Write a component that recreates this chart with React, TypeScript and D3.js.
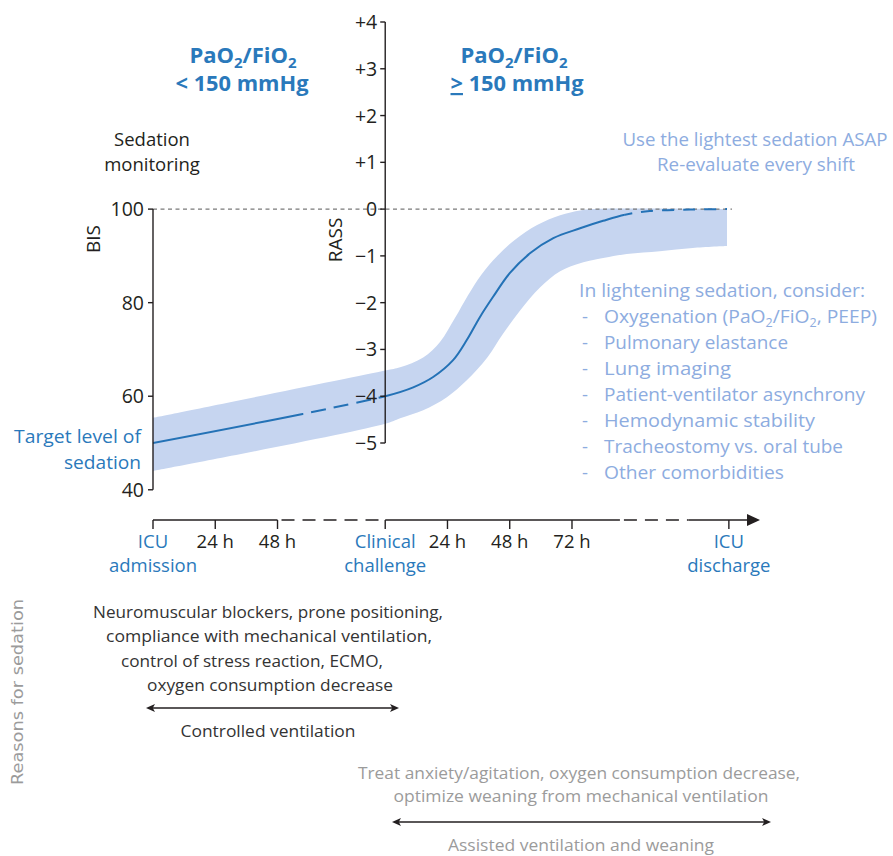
import React from 'react';
import * as d3 from 'd3';

const W = 893;
const H = 856;

// Timeline positions (1 unit = 24 h; axis is broken between phases)
const timeTicks = [0, 1, 2, 3.73, 4.73, 5.73, 6.73, 9.25];
const timeTickLabels = [["ICU", "admission"], ["24 h"], ["48 h"], ["Clinical", "challenge"], ["24 h"], ["48 h"], ["72 h"], ["ICU", "discharge"]];
const timeTickKey = [true, false, false, true, false, false, false, true];
const axisSolidSpans = [[0, 2], [3.73, 7.5], [8.6, 9.72]];
const axisDashedSpans = [[2, 3.73], [7.5, 8.6]];

const bisTicks = [100, 80, 60, 40];
const rassTicks = [4, 3, 2, 1, 0, -1, -2, -3, -4, -5];
const rassTickLabels = ["+4", "+3", "+2", "+1", "0", "\u22121", "\u22122", "\u22123", "\u22124", "\u22125"];

// Phase 1 (PaO2/FiO2 < 150): target BIS
const bisPos = [0, 3.73];
const bisTarget = [50, 60];
const bisUpper = [55.4, 65.5];
const bisLower = [44.0, 54.1];

// Phase 2 (PaO2/FiO2 >= 150): target RASS
const rassPos = [3.73, 4.18, 4.5, 4.82, 5.04, 5.25, 5.46, 5.73, 6.06, 6.43, 6.86, 7.23, 7.58, 7.98, 8.63, 9.22];
const rassTarget = [-4.0, -3.81, -3.59, -3.23, -2.8, -2.31, -1.88, -1.37, -0.94, -0.62, -0.41, -0.25, -0.12, -0.04, -0.01, 0];
const upperPos = [3.97, 4.34, 4.61, 4.85, 5.06, 5.28, 5.53, 5.81, 6.17, 6.54, 6.86, 7.05, 9.22];
const rassUpper = [-3.38, -3.17, -2.84, -2.33, -1.84, -1.39, -1.0, -0.66, -0.34, -0.13, -0.03, 0, 0];
const lowerPos = [3.97, 4.34, 4.72, 5.04, 5.37, 5.62, 5.9, 6.22, 6.54, 6.86, 7.07, 7.61, 8.14, 8.67, 9.22];
const rassLower = [-4.47, -4.3, -4.02, -3.66, -3.17, -2.67, -2.16, -1.67, -1.33, -1.16, -1.09, -0.96, -0.9, -0.83, -0.79];

const lineSolidSpans = [[0, 2.41], [3.73, 7.58]];
const lineDashedSpans1 = [[2.41, 3.73]];
const lineDashedSpans2 = [[7.58, 9.3]];

const considerItems = [
  "Oxygenation",
  "Pulmonary elastance",
  "Lung imaging",
  "Patient-ventilator asynchrony",
  "Hemodynamic stability",
  "Tracheostomy vs. oral tube",
  "Other comorbidities",
];
const considerWidths = [273, 184, 127, 261, 211, 239, 180];

const controlledReasons = [
  "Neuromuscular blockers, prone positioning,",
  "compliance with mechanical ventilation,",
  "control of stress reaction, ECMO,",
  "oxygen consumption decrease",
];
const controlledWidths = [350, 326, 262, 246];
const assistedReasons = [
  "Treat anxiety/agitation, oxygen consumption decrease,",
  "optimize weaning from mechanical ventilation",
];
const assistedWidths = [442, 375];

const FONT = "'Open Sans', 'Noto Sans', sans-serif";
const INK = "#231f20";
const BLUE = "#2a79bb";
const LINE = "#2472b6";
const BAND = "#c6d5f0";
const LIGHT = "#8dace0";
const GRAY = "#9b9b9b";

const x = d3.scaleLinear().domain([0, 9.75]).range([153, 760]);
const yR = d3.scaleLinear().domain([-5, 4]).range([443, 22]);
const yB = d3.scaleLinear().domain([40, 100]).range([yR(-6), yR(0)]);

const line = d3.line().curve(d3.curveCatmullRom.alpha(0.5));

function dedupe(pts: [number, number][]) {
  const out: [number, number][] = [];
  pts.forEach((p) => {
    const last = out[out.length - 1];
    if (!last || Math.abs(last[0] - p[0]) > 0.01) out.push(p);
  });
  return out;
}

const upperPts = dedupe([
  ...bisPos.map((u, i) => [x(u), yB(bisUpper[i])] as [number, number]),
  ...upperPos.map((u, i) => [x(u), yR(rassUpper[i])] as [number, number]),
]);
const lowerPts = dedupe([
  ...bisPos.map((u, i) => [x(u), yB(bisLower[i])] as [number, number]),
  ...lowerPos.map((u, i) => [x(u), yR(rassLower[i])] as [number, number]),
]);
const bandPath = (line(upperPts) as string) + "L" + (line(lowerPts.slice().reverse()) as string).slice(1) + "Z";
const centerPts = dedupe([
  ...bisPos.map((u, i) => [x(u), yB(bisTarget[i])] as [number, number]),
  ...rassPos.map((u, i) => [x(u), yR(rassTarget[i])] as [number, number]),
]);
const centerPath = line(centerPts) as string;

function ArrowHead({ tipX, y, dir }: { tipX: number; y: number; dir: number }) {
  const l = 9, w = 4;
  return <polygon points={`${tipX},${y} ${tipX - dir * l},${y - w} ${tipX - dir * l * 0.75},${y} ${tipX - dir * l},${y + w}`} fill={INK} />;
}

export default function App() {
  const axisY = 520;
  const rx = x(3.73);
  return (
    <svg width={W} height={H} style={{ position: 'absolute', left: 0, top: 0, display: 'block', background: '#fff' }} fontFamily={FONT}>
      <defs>
        <clipPath id="solidClip">
          {lineSolidSpans.map((s, i) => <rect key={i} x={x(s[0])} y={0} width={x(s[1]) - x(s[0])} height={H} />)}
        </clipPath>
        <clipPath id="dash1Clip">
          {lineDashedSpans1.map((s, i) => <rect key={i} x={x(s[0])} y={0} width={x(s[1]) - x(s[0])} height={H} />)}
        </clipPath>
        <clipPath id="dash2Clip">
          {lineDashedSpans2.map((s, i) => <rect key={i} x={x(s[0])} y={0} width={x(s[1]) - x(s[0])} height={H} />)}
        </clipPath>
      </defs>

      {/* Titles */}
      <text x={243} y={63} textAnchor="middle" fontSize={22} fontWeight={700} fill={BLUE}>
        <tspan>PaO</tspan><tspan fontSize={15} dy={5}>2</tspan><tspan dy={-5}>/FiO</tspan><tspan fontSize={15} dy={5}>2</tspan>
      </text>
      <text x={242} y={91} textAnchor="middle" fontSize={22} fontWeight={700} fill={BLUE} textLength={133} lengthAdjust="spacingAndGlyphs">&lt; 150 mmHg</text>
      <text x={514} y={63} textAnchor="middle" fontSize={22} fontWeight={700} fill={BLUE}>
        <tspan>PaO</tspan><tspan fontSize={15} dy={5}>2</tspan><tspan dy={-5}>/FiO</tspan><tspan fontSize={15} dy={5}>2</tspan>
      </text>
      <text x={517} y={91} textAnchor="middle" fontSize={22} fontWeight={700} fill={BLUE} textLength={133} lengthAdjust="spacingAndGlyphs">
        <tspan style={{ textDecoration: 'underline' }}>&gt;</tspan> 150 mmHg
      </text>

      <text x={152} y={146} textAnchor="middle" fontSize={18.5} fill={INK}>Sedation</text>
      <text x={152} y={171} textAnchor="middle" fontSize={18.5} fill={INK}>monitoring</text>

      <text x={755} y={146} textAnchor="middle" fontSize={18.5} fill={LIGHT} textLength={265} lengthAdjust="spacingAndGlyphs">Use the lightest sedation ASAP</text>
      <text x={756} y={171} textAnchor="middle" fontSize={18.5} fill={LIGHT} textLength={198} lengthAdjust="spacingAndGlyphs">Re-evaluate every shift</text>

      {/* Band and target line */}
      <path d={bandPath} fill={BAND} />
      <line x1={x(0)} x2={x(9.3)} y1={yR(0)} y2={yR(0)} stroke="#7a7a7a" strokeWidth={1.3} strokeDasharray="4 3.5" />
      <path d={centerPath} fill="none" stroke={LINE} strokeWidth={2} clipPath="url(#solidClip)" />
      <path d={centerPath} fill="none" stroke={LINE} strokeWidth={2} strokeDasharray="15 8" clipPath="url(#dash1Clip)" />
      <path d={centerPath} fill="none" stroke={LINE} strokeWidth={2} strokeDasharray="12 9" clipPath="url(#dash2Clip)" />

      {/* BIS axis */}
      <line x1={x(0)} x2={x(0)} y1={yB(100)} y2={yB(40)} stroke={INK} strokeWidth={1.4} />
      {bisTicks.map((t) => (
        <g key={t}>
          <line x1={x(0) - 5} x2={x(0)} y1={yB(t)} y2={yB(t)} stroke={INK} strokeWidth={1.4} />
          <text x={x(0) - 9} y={yB(t) + 7} textAnchor="end" fontSize={19.5} fill={INK}>{t}</text>
        </g>
      ))}
      <text transform={`translate(100,239) rotate(-90)`} textAnchor="middle" fontSize={19} fill={INK}>BIS</text>

      {/* RASS axis */}
      <line x1={rx} x2={rx} y1={yR(4)} y2={yR(-5)} stroke={INK} strokeWidth={1.4} />
      {rassTicks.map((t, i) => (
        <g key={t}>
          <line x1={rx - 5} x2={rx} y1={yR(t)} y2={yR(t)} stroke={INK} strokeWidth={1.4} />
          <text x={rx - 8} y={yR(t) + 7} textAnchor="end" fontSize={19.5} fill={INK}>{rassTickLabels[i]}</text>
        </g>
      ))}
      <text transform={`translate(342,240) rotate(-90)`} textAnchor="middle" fontSize={19} fill={INK}>RASS</text>

      {/* Target level of sedation */}
      <text x={141} y={443} textAnchor="end" fontSize={18.5} fill={BLUE} textLength={127} lengthAdjust="spacingAndGlyphs">Target level of</text>
      <text x={141} y={469} textAnchor="end" fontSize={18.5} fill={BLUE} textLength={77} lengthAdjust="spacingAndGlyphs">sedation</text>

      {/* Lightening list */}
      <text x={579} y={297} fontSize={18.5} fill={LIGHT} textLength={286} lengthAdjust="spacingAndGlyphs">In lightening sedation, consider:</text>
      {considerItems.map((s, i) => (
        <g key={s}>
          <text x={582} y={323 + i * 26} fontSize={18.5} fill={LIGHT}>-</text>
          {i === 0 ? (
            <text x={604} y={323} fontSize={18.5} fill={LIGHT} textLength={considerWidths[0]} lengthAdjust="spacingAndGlyphs">
              <tspan>Oxygenation (PaO</tspan><tspan fontSize={12} dy={4}>2</tspan><tspan dy={-4}>/FiO</tspan><tspan fontSize={12} dy={4}>2</tspan><tspan dy={-4}>, PEEP)</tspan>
            </text>
          ) : (
            <text x={604} y={323 + i * 26} fontSize={18.5} fill={LIGHT} textLength={considerWidths[i]} lengthAdjust="spacingAndGlyphs">{s}</text>
          )}
        </g>
      ))}

      {/* Time axis */}
      {axisSolidSpans.map((s, i) => (
        <line key={'s' + i} x1={x(s[0])} x2={x(s[1])} y1={axisY} y2={axisY} stroke={INK} strokeWidth={1.4} />
      ))}
      {axisDashedSpans.map((s, i) => (
        <line key={'d' + i} x1={x(s[0])} x2={x(s[1])} y1={axisY} y2={axisY} stroke={INK} strokeWidth={1.4} strokeDasharray="13 8" strokeDashoffset={-4} />
      ))}
      <polygon points={`${x(9.75)},${axisY} ${x(9.75) - 13},${axisY - 6} ${x(9.75) - 13},${axisY + 6}`} fill={INK} />
      {timeTicks.map((t, i) => (
        <g key={i}>
          <line x1={x(t)} x2={x(t)} y1={axisY} y2={axisY + 9} stroke={INK} strokeWidth={1.4} />
          {timeTickLabels[i].map((lab, j) => (
            <text key={j} x={x(t)} y={548 + j * 24} textAnchor="middle" fontSize={18.5} fill={timeTickKey[i] ? BLUE : INK}>{lab}</text>
          ))}
        </g>
      ))}

      {/* Reasons for sedation */}
      <text transform={`translate(23,692) rotate(-90)`} textAnchor="middle" fontSize={16} fill={GRAY} fontFamily="'DejaVu Sans', sans-serif" textLength={186} lengthAdjust="spacingAndGlyphs">Reasons for sedation</text>

      {controlledReasons.map((s, i) => (
        <text key={s} x={[268, 269, 252, 270][i]} y={618 + i * 24.3} textAnchor="middle" fontSize={16.5} fill="#333" textLength={controlledWidths[i]} lengthAdjust="spacingAndGlyphs">{s}</text>
      ))}
      <line x1={150} x2={395} y1={708} y2={708} stroke={INK} strokeWidth={1.4} />
      <ArrowHead tipX={146} y={708} dir={-1} />
      <ArrowHead tipX={399} y={708} dir={1} />
      <text x={268} y={737} textAnchor="middle" fontSize={16.5} fill="#333" textLength={175} lengthAdjust="spacingAndGlyphs">Controlled ventilation</text>

      {assistedReasons.map((s, i) => (
        <text key={s} x={[579, 581][i]} y={779 + i * 23} textAnchor="middle" fontSize={16.5} fill={GRAY} textLength={assistedWidths[i]} lengthAdjust="spacingAndGlyphs">{s}</text>
      ))}
      <line x1={396} x2={767} y1={822} y2={822} stroke={INK} strokeWidth={1.4} />
      <ArrowHead tipX={392} y={822} dir={-1} />
      <ArrowHead tipX={771} y={822} dir={1} />
      <text x={581} y={851} textAnchor="middle" fontSize={16.5} fill={GRAY} textLength={266} lengthAdjust="spacingAndGlyphs">Assisted ventilation and weaning</text>
    </svg>
  );
}
